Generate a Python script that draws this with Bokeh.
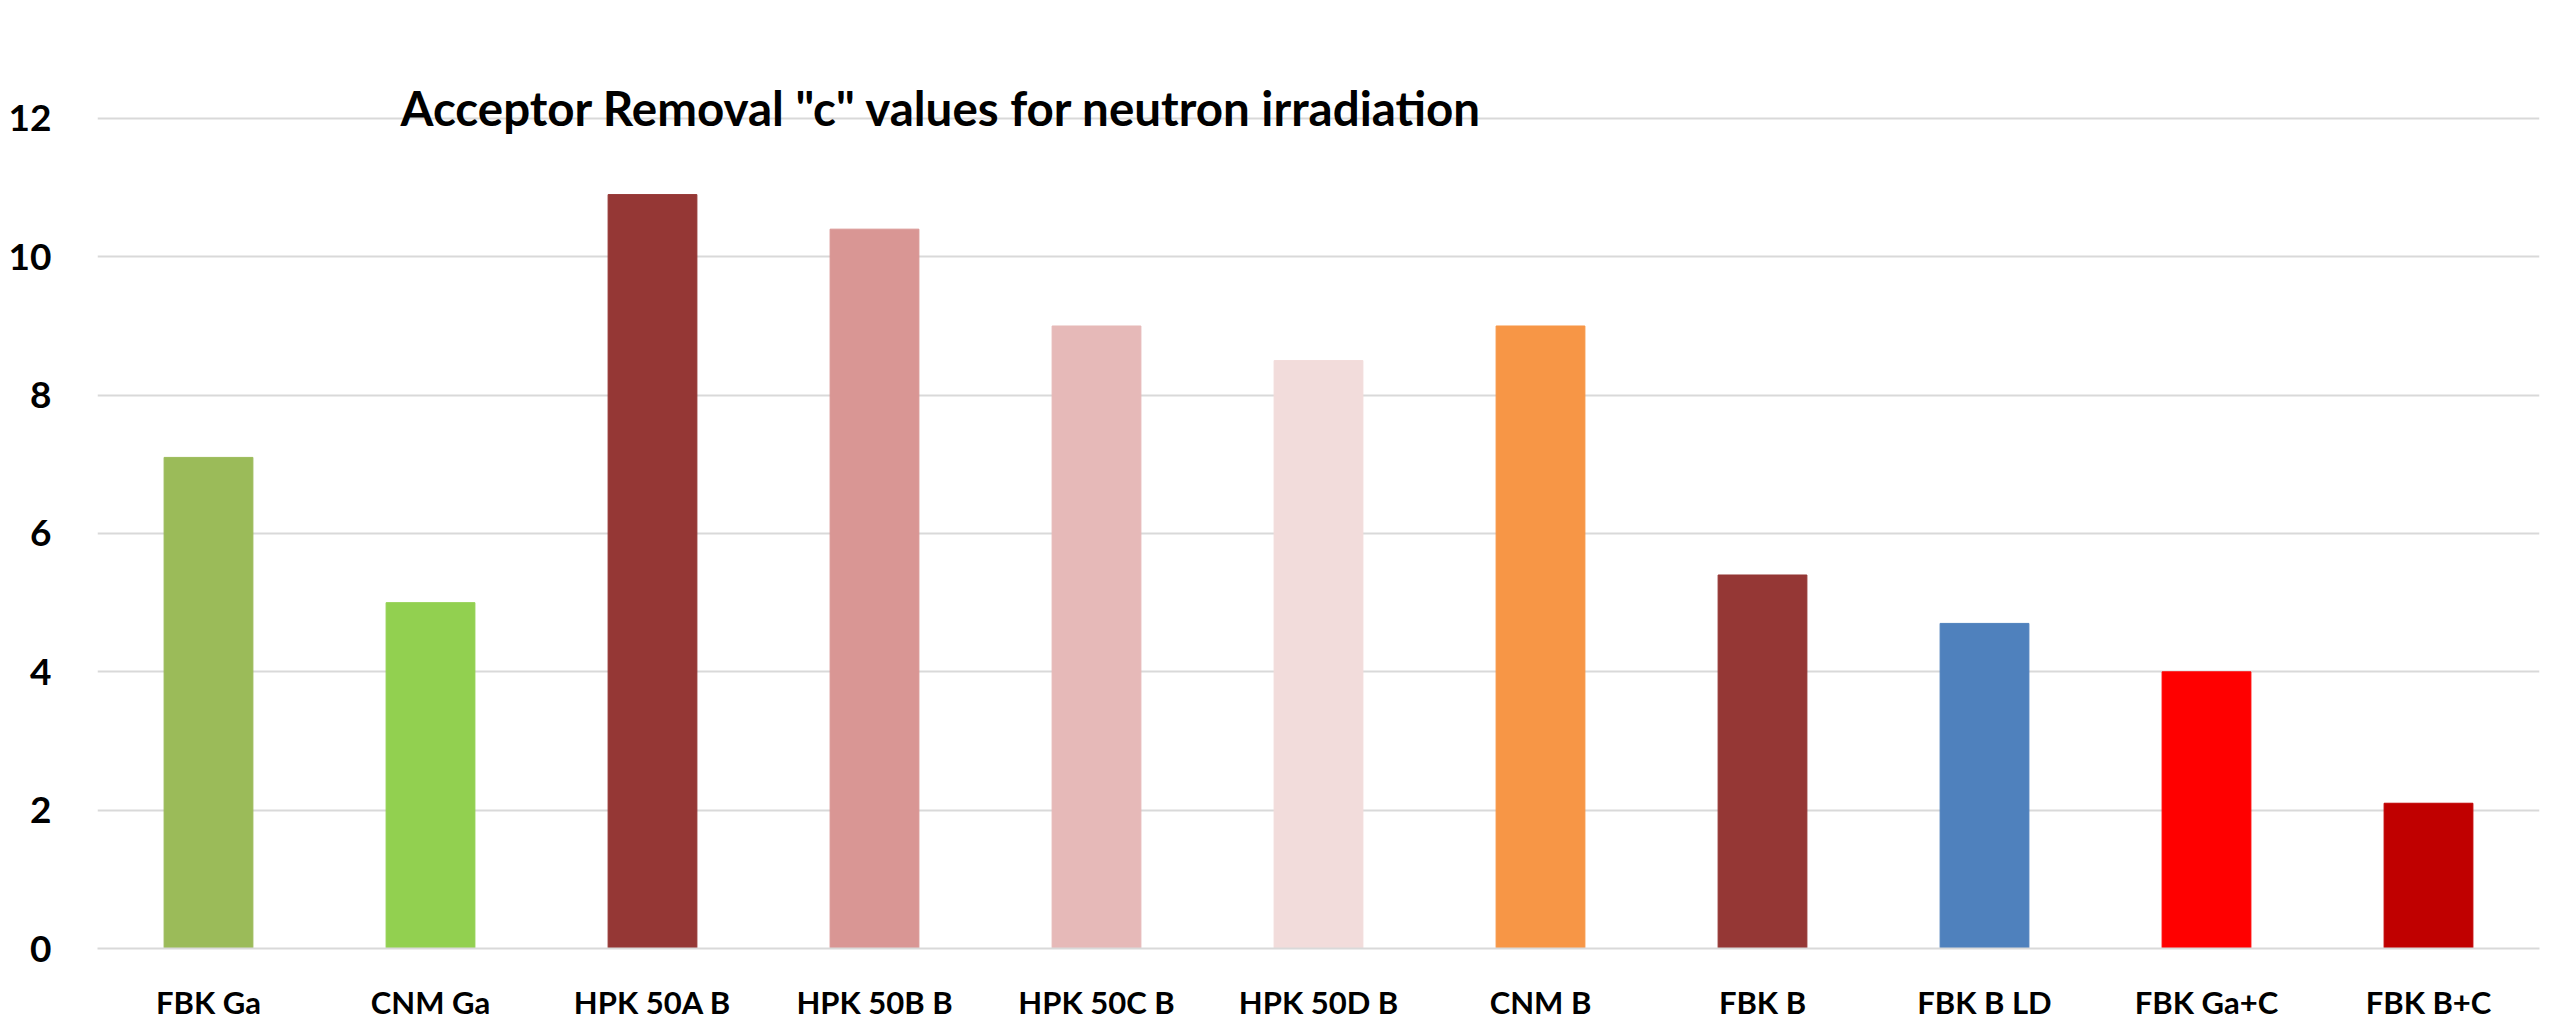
from bokeh.plotting import figure
from bokeh.models import FactorRange, Range1d, FixedTicker, Label, ColumnDataSource
from bokeh.embed import file_html
from bokeh.resources import INLINE

categories = ["FBK Ga", "CNM Ga", "HPK 50A B", "HPK 50B B", "HPK 50C B", "HPK 50D B",
              "CNM B", "FBK B", "FBK B LD", "FBK Ga+C", "FBK B+C"]
c_values = [7.1, 5.0, 10.9, 10.4, 9.0, 8.5, 9.0, 5.4, 4.7, 4.0, 2.1]
bar_colors = ["#9BBB59", "#92D050", "#953735", "#D99694", "#E6B9B8", "#F2DCDB",
              "#F79646", "#953735", "#4F81BD", "#FF0000", "#C00000"]
y_ticks = [0, 2, 4, 6, 8, 10, 12]
title_text = 'Acceptor Removal "c" values for neutron irradiation'

FONT = "Lato"

src = ColumnDataSource(dict(cat=categories, val=c_values, color=bar_colors))

# frame: 900 px tall, 69.1667 px per unit -> top of range at 13.012 (gridlines stop at 12)
p = figure(width=2560, height=1031, output_backend="svg", toolbar_location=None,
           x_range=FactorRange(factors=categories, range_padding=0),
           y_range=Range1d(0, 13.012), title=None,
           min_border_left=97, min_border_right=21, min_border_top=48, min_border_bottom=83)

p.vbar(x="cat", top="val", width=0.4, color="color", source=src)

p.outline_line_color = None
p.background_fill_color = "white"
p.border_fill_color = "white"
p.styles = {"outline": "2px solid #D9D9D9", "outline-offset": "-3px"}

p.xgrid.grid_line_color = None
p.ygrid.grid_line_color = "#D9D9D9"
p.ygrid.grid_line_width = 2
p.yaxis.ticker = FixedTicker(ticks=y_ticks)

p.yaxis.axis_line_color = None
p.yaxis.major_tick_line_color = None
p.yaxis.minor_tick_line_color = None
p.yaxis.major_label_standoff = 40
p.yaxis.major_label_text_font = FONT
p.yaxis.major_label_text_font_style = "bold"
p.yaxis.major_label_text_font_size = "37px"
p.yaxis.major_label_text_color = "black"

p.xaxis.axis_line_color = "#D9D9D9"
p.xaxis.axis_line_width = 2
p.xaxis.major_tick_line_color = None
p.xaxis.minor_tick_line_color = None
p.xaxis.major_label_standoff = 28
p.xaxis.major_label_text_font = FONT
p.xaxis.major_label_text_font_style = "bold"
p.xaxis.major_label_text_font_size = "31px"
p.xaxis.major_label_text_color = "black"

title = Label(x=1.365, y=12.159, text=title_text, text_font=FONT, text_font_style="bold",
              text_font_size="47.5px", text_color="black", text_baseline="alphabetic",
              text_align="left")
p.add_layout(title)

open("out.html", "w").write(file_html(p, INLINE))
